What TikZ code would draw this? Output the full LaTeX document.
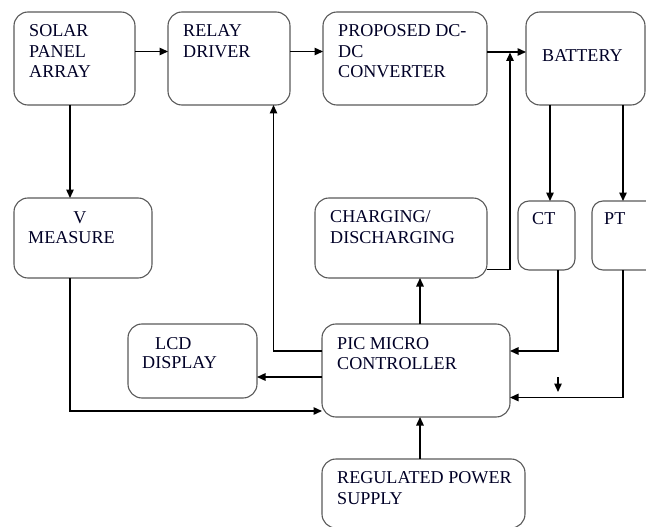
\documentclass[tikz,border=0pt]{standalone}
\usepackage{fontspec}
\setmainfont{Liberation Serif}
\usetikzlibrary{arrows.meta}
\begin{document}
\begin{tikzpicture}[x=1pt,y=-1pt,
  box/.style={draw=black!65,line width=1.1pt,rounded corners=14pt,inner sep=0pt,outer sep=0pt},
  lbl/.style={anchor=base west,inner sep=0pt,font=\fontsize{18.1}{20.5}\selectfont,text=black!85!blue},
  wire/.style={draw=black,line width=1.4pt},
  arr/.style={wire,-{Triangle[length=8.5pt,width=7.5pt]}}]
\useasboundingbox (0,0) rectangle (646,527);
\clip (0,0) rectangle (646,527);
% boxes
\node[box,minimum width=121pt,minimum height=93pt] (solar) at (74.5,58.5) {};
\node[box,minimum width=122pt,minimum height=93pt] (relay) at (229,58.5) {};
\node[box,minimum width=164pt,minimum height=93pt] (conv) at (405,58.5) {};
\node[box,minimum width=119pt,minimum height=93pt] (batt) at (585.5,58.5) {};
\node[box,minimum width=138pt,minimum height=80pt] (vm) at (83,238) {};
\node[box,minimum width=172pt,minimum height=80pt] (chg) at (401,238) {};
\node[box,minimum width=57pt,minimum height=69pt,rounded corners=11pt] (ct) at (546.5,235.5) {};
\node[box,minimum width=80pt,minimum height=69pt,rounded corners=11pt] (pt) at (632,235.5) {};
\node[box,minimum width=129pt,minimum height=74pt] (lcd) at (192.5,361) {};
\node[box,minimum width=188pt,minimum height=93pt] (pic) at (416,370.5) {};
\node[box,minimum width=203pt,minimum height=69pt] (reg) at (423.5,493.5) {};
% labels
\node[lbl] (solarA) at (29,37) {SOLAR};
\node[lbl] (solarB) at (29,57.5) {PANEL};
\node[lbl] (solarC) at (29,78) {ARRAY};
\node[lbl] (relayA) at (183,37) {RELAY};
\node[lbl] (relayB) at (183,57.5) {DRIVER};
\node[lbl] (convA) at (338,37) {PROPOSED DC-};
\node[lbl] (convB) at (338,57.5) {DC};
\node[lbl] (convC) at (338,78) {CONVERTER};
\node[lbl] (battA) at (542,62) {BATTERY};
\node[lbl,anchor=base] (vmA) at (80,223) {V};
\node[lbl] (vmB) at (28,243.5) {MEASURE};
\node[lbl] (chgA) at (330,222.5) {CHARGING/};
\node[lbl] (chgB) at (330,243) {DISCHARGING};
\node[lbl] (ctA) at (532,224) {CT};
\node[lbl] (ptA) at (604,224.5) {PT};
\node[lbl] (lcdA) at (155,349) {LCD};
\node[lbl] (lcdB) at (142,368.5) {DISPLAY};
\node[lbl] (picA) at (337,349) {PIC MICRO};
\node[lbl] (picB) at (337,369) {CONTROLLER};
\node[lbl] (regA) at (337,483.5) {REGULATED POWER};
\node[lbl] (regB) at (337,504) {SUPPLY};
% connectors
\draw[arr] (solar.east |- 0,51.5) -- (relay.west |- 0,51.5);
\draw[arr] (relay.east |- 0,51.5) -- (conv.west |- 0,51.5);
\draw[arr] (conv.east |- 0,52) -- (batt.west |- 0,52);
\draw[arr] (chg.east |- 0,269.5) -| (510,52.5);
\draw[arr] (solar.south -| 70,0) -- (vm.north -| 70,0);
\draw[arr] (pic.west |- 0,351) -| (relay.south -| 273.5,0);
\draw[arr] (pic.west |- 0,377) -- (lcd.east |- 0,377);
\draw[arr] (vm.south -| 70,0) |- (pic.west |- 0,411);
\draw[arr] (pic.north -| 420,0) -- (chg.south -| 420,0);
\draw[arr] (reg.north -| 420,0) -- (pic.south -| 420,0);
\draw[arr] (batt.south -| 550,0) -- (ct.north -| 550,0);
\draw[arr] (batt.south -| 623,0) -- (pt.north -| 623,0);
\draw[arr] (ct.south -| 558,0) |- (pic.east |- 0,351);
\draw[arr] (pt.south -| 623,0) |- (pic.east |- 0,397.5);
\coordinate (stubA) at (558,377);
\coordinate (stubB) at (558,392);
\draw[arr] (stubA) -- (stubB);
\end{tikzpicture}
\end{document}
